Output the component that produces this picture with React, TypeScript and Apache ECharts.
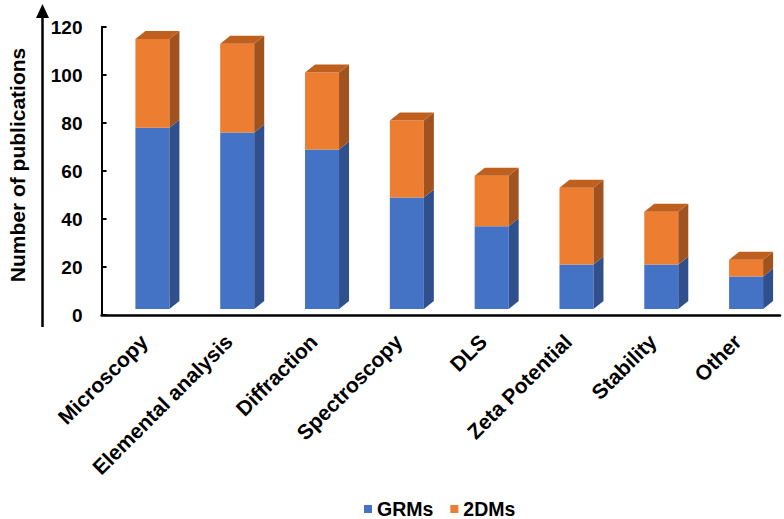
import React, { useEffect, useRef } from "react";
import * as echarts from "echarts";

const categories = [
  "Microscopy",
  "Elemental analysis",
  "Diffraction",
  "Spectroscopy",
  "DLS",
  "Zeta Potential",
  "Stability",
  "Other",
];
const grmsValues = [78, 76, 69, 49, 37, 21, 21, 16];
const dmsValues = [37, 37, 32, 32, 21, 32, 22, 7];
const seriesNames = ["GRMs", "2DMs"];
const yTicks = { min: 0, max: 120, interval: 20 };

const FONT = "'Liberation Sans', Arial, sans-serif";

const BAR_W = 34;
const DEPTH_X = 10;
const DEPTH_Y = 8;
const OFFSET_X = 8.5;
const FLOOR = 6;

const palette = [
  { front: "#4472C4", side: "#2F508C", top: "#3A63AE" },
  { front: "#ED7D31", side: "#A0531F", top: "#C0601F" },
];

function makeRender(colors: { front: string; side: string; top: string }, drawTop: boolean) {
  return (params: any, api: any) => {
    const idx = api.value(0);
    const lo = api.value(1);
    const hi = api.value(2);
    const pTop = api.coord([idx, hi]);
    const pLo = api.coord([idx, lo]);
    const cx = pTop[0] + OFFSET_X;
    const x0 = cx - BAR_W / 2;
    const x1 = cx + BAR_W / 2;
    let yB = pLo[1];
    if (lo === 0) yB -= FLOOR;
    const yT = pTop[1];
    const children: any[] = [
      {
        type: "rect",
        shape: { x: x0, y: yT, width: BAR_W, height: yB - yT },
        style: { fill: colors.front },
      },
      {
        type: "polygon",
        shape: {
          points: [
            [x1, yB],
            [x1 + DEPTH_X, yB - DEPTH_Y],
            [x1 + DEPTH_X, yT - DEPTH_Y],
            [x1, yT],
          ],
        },
        style: { fill: colors.side },
      },
    ];
    if (drawTop) {
      children.push({
        type: "polygon",
        shape: {
          points: [
            [x0, yT],
            [x0 + DEPTH_X, yT - DEPTH_Y],
            [x1 + DEPTH_X, yT - DEPTH_Y],
            [x1, yT],
          ],
        },
        style: { fill: colors.top },
      });
    }
    return { type: "group", children };
  };
}

export default function App() {
  const ref = useRef<HTMLDivElement>(null);

  useEffect(() => {
    if (!ref.current) return;
    const chart = echarts.init(ref.current, undefined, { renderer: "svg" });

    const grmsData = categories.map((_, i) => [i, 0, grmsValues[i]]);
    const dmsData = categories.map((_, i) => [
      i,
      grmsValues[i],
      grmsValues[i] + dmsValues[i],
    ]);

    const option: any = {
      animation: false,
      backgroundColor: "#ffffff",
      textStyle: { fontFamily: FONT },
      grid: { left: 101.5, right: 4, top: 27, bottom: 204, containLabel: false },
      legend: {
        data: seriesNames.map((n) => ({ name: n, icon: "rect" })),
        left: 359,
        top: 494,
        itemWidth: 8,
        itemHeight: 8,
        itemGap: 17,
        textStyle: {
          fontFamily: FONT,
          fontSize: 19.5,
          fontWeight: "bold",
          color: "#000",
        },
      },
      xAxis: {
        type: "category",
        data: categories,
        axisLine: { show: true, lineStyle: { color: "#000", width: 2.5 } },
        axisTick: { show: false },
        axisLabel: {
          interval: 0,
          rotate: 45,
          margin: 23,
          fontFamily: FONT,
          fontSize: 21,
          fontWeight: "bold",
          color: "#000",
        },
        splitLine: { show: false },
      },
      yAxis: {
        type: "value",
        min: yTicks.min,
        max: yTicks.max,
        interval: yTicks.interval,
        axisLine: { show: true, lineStyle: { color: "#000", width: 2 } },
        axisTick: {
          show: true,
          inside: true,
          length: 5,
          lineStyle: { color: "#000", width: 2 },
        },
        axisLabel: {
          margin: 19,
          fontFamily: FONT,
          fontSize: 19,
          fontWeight: "bold",
          color: "#000",
        },
        splitLine: { show: false },
      },
      graphic: [
        {
          type: "line",
          shape: { x1: 42.5, y1: 16, x2: 42.5, y2: 327 },
          style: { stroke: "#000", lineWidth: 2.5 },
        },
        {
          type: "polygon",
          shape: {
            points: [
              [42.5, 4],
              [36, 18],
              [49, 18],
            ],
          },
          style: { fill: "#000" },
        },
        {
          type: "text",
          x: 17,
          y: 165,
          rotation: Math.PI / 2,
          style: {
            text: "Number of publications",
            fontFamily: FONT,
            fontSize: 21,
            fontWeight: "bold",
            fill: "#000",
            align: "center",
            verticalAlign: "middle",
          },
        },
      ],
      series: [
        {
          name: seriesNames[0],
          type: "custom",
          itemStyle: { color: palette[0].front },
          encode: { x: 0, y: [1, 2] },
          data: grmsData,
          renderItem: makeRender(palette[0], false),
        },
        {
          name: seriesNames[1],
          type: "custom",
          itemStyle: { color: palette[1].front },
          encode: { x: 0, y: [1, 2] },
          data: dmsData,
          renderItem: makeRender(palette[1], true),
        },
      ],
    };

    chart.setOption(option);
    return () => chart.dispose();
  }, []);

  return (
    <div
      ref={ref}
      style={{ position: "fixed", left: 0, top: 0, width: 784, height: 519 }}
    />
  );
}
